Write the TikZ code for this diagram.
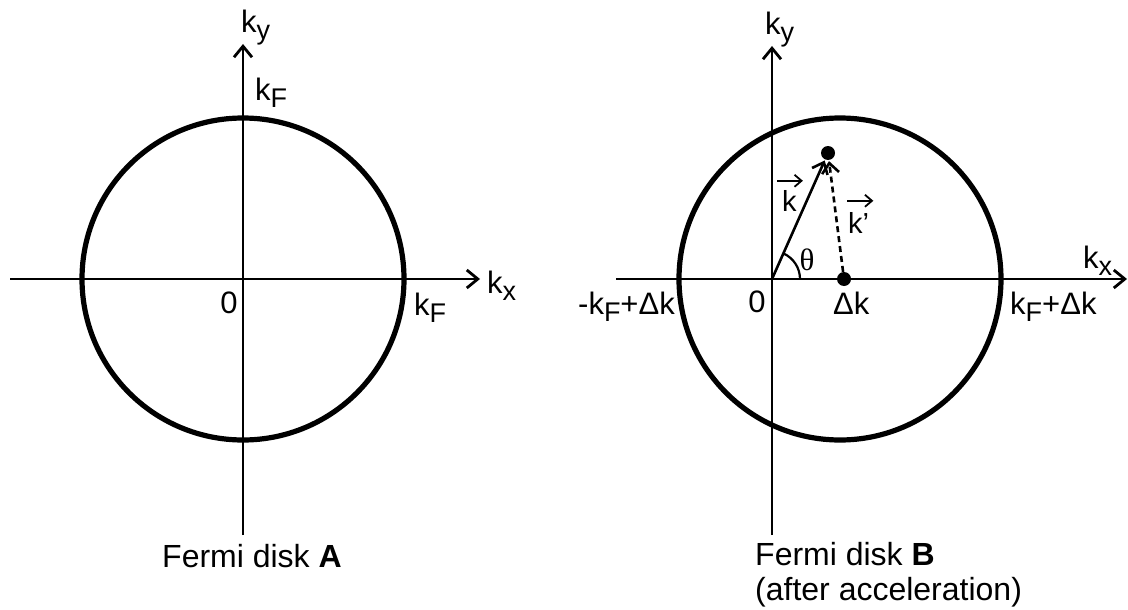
\documentclass[tikz,border=0pt]{standalone}
\usepackage{fontspec}
\setmainfont{Liberation Sans}
\newfontfamily\thetafont{Liberation Serif}
\usetikzlibrary{arrows.meta}
\newcommand\sbs[1]{\raisebox{-7pt}{\fontsize{27}{27}\selectfont #1}}
\tikzset{
  axis/.style={line width=2.8pt, -{Straight Barb[length=11pt,width=18pt]}},
  disk/.style={line width=5.2pt},
  lab/.style={inner sep=0pt, font=\fontsize{31}{36}\selectfont},
  caption/.style={inner sep=0pt, font=\fontsize{32}{38}\selectfont},
  vlab/.style={inner sep=0pt, font=\fontsize{29}{30}\selectfont},
  overarr/.style={line width=1.8pt, -{Straight Barb[length=7pt,width=12pt]}},
  vecline/.style={line width=2.6pt, -{Straight Barb[length=10pt,width=17pt]}, shorten >=1pt},
  dotnode/.style={circle, fill, inner sep=0pt, minimum size=14pt},
}
\begin{document}
\begin{tikzpicture}[x=1pt,y=-1pt]
\useasboundingbox (0,0) rectangle (1128,610);
% ---------- Left: Fermi disk A ----------
\coordinate (O1) at (243,279);
\coordinate (L1) at (10,279);
\coordinate (R1) at (480,279);
\coordinate (B1) at (243,535);
\coordinate (T1) at (243,44);
\draw[disk] (O1) circle[radius=161];
\draw[axis] (L1) -- (R1);
\draw[axis] (B1) -- (T1);
\node[lab, anchor=base west] (kyA) at (241,33) {k\sbs{y}};
\node[lab, anchor=base west] (kFtA) at (255,100) {k\sbs{F}};
\node[lab, anchor=base west] (kFrA) at (414,315) {k\sbs{F}};
\node[lab, anchor=base west] (kxA) at (487,293) {k\sbs{x}};
\node[lab, anchor=base] (zeroA) at (229,313) {0};
\node[caption, anchor=base west] (capA) at (162,567) {Fermi disk \textbf{A}};
% ---------- Right: Fermi disk B ----------
\coordinate (O2) at (772,279);
\coordinate (C2) at (840,279);
\coordinate (L2) at (616,279);
\coordinate (R2) at (1127,279);
\coordinate (B2) at (772,535);
\coordinate (T2) at (772,46);
\draw[disk] (C2) circle[radius=161];
\draw[axis] (L2) -- (R2);
\draw[axis] (B2) -- (T2);
\node[dotnode] (D) at (828,153) {};
\node[dotnode] (P) at (844,279) {};
\draw[line width=2.2pt] ([shift={(28pt,0pt)}]O2) arc[start angle=0, end angle=66, radius=28pt];
\draw[vecline] (O2) -- (D);
\draw[vecline, dash pattern=on 6pt off 4pt] (P) -- (D);
\node[lab, anchor=base west] (kyB) at (765,35) {k\sbs{y}};
\node[lab, anchor=base west] (kxB) at (1083,268) {k\sbs{x}};
\node[lab, anchor=base] (zeroB) at (757,312) {0};
\node[lab, anchor=base west] (dk) at (833,314) {Δk};
\node[lab, anchor=base east] (mkF) at (675,314) {-k\sbs{F}+Δk};
\node[lab, anchor=base west] (pkF) at (1010,314) {k\sbs{F}+Δk};
\node[vlab, anchor=base west] (kv) at (782,211) {k};
\draw[overarr] ([shift={(-5pt,9pt)}]kv.north west) -- ([shift={(6pt,9pt)}]kv.north east);
\node[vlab, anchor=base west] (kpv) at (848,233) {k’};
\draw[overarr] ([shift={(-1pt,11pt)}]kpv.north west) -- ([shift={(4pt,11pt)}]kpv.north east);
\node[inner sep=0pt, font=\fontsize{31}{32}\selectfont\thetafont] (th) at (807,260) {θ};
\node[caption, anchor=base west] (capB) at (755,565) {Fermi disk \textbf{B}};
\node[caption, anchor=base west] (capB2) at (755,600) {(after acceleration)};
\end{tikzpicture}
\end{document}
